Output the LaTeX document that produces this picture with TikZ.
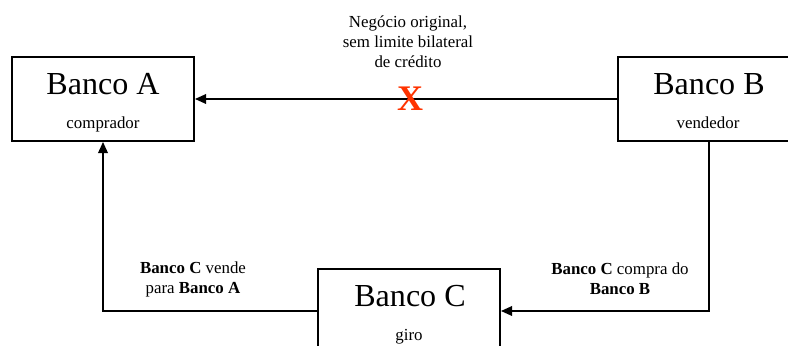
\documentclass[tikz,border=0pt]{standalone}
\usepackage{fontspec}
\setmainfont{Liberation Serif}
\usetikzlibrary{arrows.meta, positioning}
\definecolor{crossred}{RGB}{255, 51, 0}

\begin{document}
\begin{tikzpicture}[x=0.025cm, y=-0.025cm]
    \tikzstyle{bank} = [rectangle, draw, line width=1.3pt, minimum width=4.55cm, minimum height=2.1cm, inner sep=0pt]
    \tikzstyle{bankname} = [font=\fontsize{22.8}{27}\selectfont, inner sep=0pt, anchor=base]
    \tikzstyle{role} = [font=\fontsize{12}{14}\selectfont, inner sep=0pt, anchor=base]
    \tikzstyle{note} = [font=\fontsize{12}{14.2}\selectfont, align=center, inner sep=0pt]
    \tikzstyle{cross} = [font=\fontsize{25.6}{30}\selectfont\bfseries, text=crossred, inner sep=0pt]
    \tikzstyle{arrow} = [line width=1.3pt, -{Triangle[length=0.28cm, width=0.24cm]}]

    \useasboundingbox (0,0) rectangle (788,346);
    \clip (0,0) rectangle (788,346);

    % bancos
    \node[bank] (a) at (103,99) {};
    \node[bank] (b) at (709,99) {};
    \node[bank] (c) at (409,311) {};

    \node[bankname] (aname) at (103,95) {Banco A};
    \node[role] (arole) at (103,129) {comprador};
    \node[bankname] (bname) at (709,95) {Banco B};
    \node[role] (brole) at (708,129) {vendedor};
    \node[bankname] (cname) at (410,307) {Banco C};
    \node[role] (crole) at (409,341) {giro};

    % fluxos
    \draw[arrow] (b.west) -- (a.east);
    \draw[arrow] (b.south) |- (c.east);
    \draw[arrow] (c.west) -| (a.south);

    \node[cross] (x) at (410,98.5) {X};
    \node[note] (orig) at (408,42) {Negócio original,\\sem limite bilateral\\de crédito};
    \node[note] (venda) at (193,279) {\textbf{Banco C} vende\\para \textbf{Banco A}};
    \node[note] (compra) at (620,279) {\textbf{Banco C} compra do\\\textbf{Banco B}};
\end{tikzpicture}
\end{document}
